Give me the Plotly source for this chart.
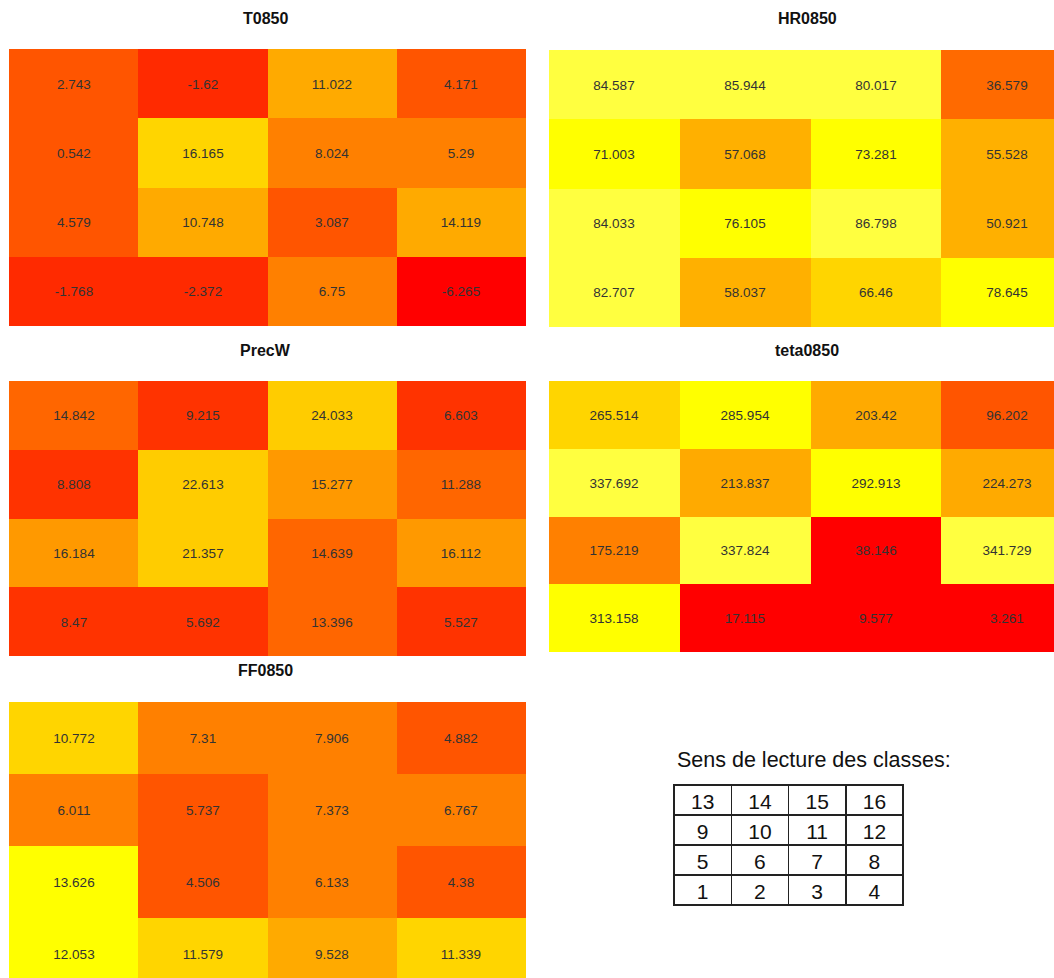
import plotly.graph_objects as go

# ---------------- data (values listed in class order 1..16; class 1 = bottom-left) ----------------
T0850 = [-1.768, -2.372, 6.75, -6.265,
         4.579, 10.748, 3.087, 14.119,
         0.542, 16.165, 8.024, 5.29,
         2.743, -1.62, 11.022, 4.171]
HR0850 = [82.707, 58.037, 66.46, 78.645,
          84.033, 76.105, 86.798, 50.921,
          71.003, 57.068, 73.281, 55.528,
          84.587, 85.944, 80.017, 36.579]
PrecW = [8.47, 5.692, 13.396, 5.527,
         16.184, 21.357, 14.639, 16.112,
         8.808, 22.613, 15.277, 11.288,
         14.842, 9.215, 24.033, 6.603]
teta0850 = [313.158, 17.115, 9.577, 3.261,
            175.219, 337.824, 38.146, 341.729,
            337.692, 213.837, 292.913, 224.273,
            265.514, 285.954, 203.42, 96.202]
FF0850 = [12.053, 11.579, 9.528, 11.339,
          13.626, 4.506, 6.133, 4.38,
          6.011, 5.737, 7.373, 6.767,
          10.772, 7.31, 7.906, 4.882]

titles = ["T0850", "HR0850", "PrecW", "teta0850", "FF0850"]
classes = list(range(1, 17))
legend_title = "Sens de lecture des classes:"

# class breaks (scale definitions) and heat colours per panel
breaks = {
    "T0850": [-10, -5, 0, 5, 10, 15, 20],
    "HR0850": [30, 40, 50, 60, 70, 80, 90],
    "PrecW": [5, 10, 15, 20, 25],
    "teta0850": [0, 50, 150, 200, 250, 280, 325, 350],
    "FF0850": [4, 6, 8, 10, 12, 14],
}
palettes = {
    "T0850": ["#FF0000", "#FF2A00", "#FF5500", "#FF8000", "#FFAA00", "#FFD500"],
    "HR0850": ["#FF6A00", "#FF8D00", "#FFB000", "#FFD500", "#FFFF00", "#FFFF40"],
    "PrecW": ["#FF3300", "#FF6600", "#FF9900", "#FFCC00"],
    "teta0850": ["#FF0000", "#FF5500", "#FF8000", "#FFAA00", "#FFD500", "#FFFF00", "#FFFF40"],
    "FF0850": ["#FF5500", "#FF8000", "#FFAA00", "#FFD500", "#FFFF00"],
}

series = {"T0850": T0850, "HR0850": HR0850, "PrecW": PrecW,
          "teta0850": teta0850, "FF0850": FF0850}

W, H = 1054, 978

# panel boxes in pixels: x0, x1, y0(top), y1(bottom), xrange, yrange
panels = {
    "T0850":    dict(px=(9, 526),   py=(49, 326),  xr=[-0.5, 3.5],  yr=[-0.5, 3.5]),
    "HR0850":   dict(px=(549, 1054), py=(50, 327), xr=[-0.5, 3.36], yr=[-0.5, 3.5]),
    "PrecW":    dict(px=(9, 526),   py=(381, 656), xr=[-0.5, 3.5],  yr=[-0.5, 3.5]),
    "teta0850": dict(px=(549, 1054), py=(381, 652), xr=[-0.5, 3.36], yr=[-0.5, 3.5]),
    "FF0850":   dict(px=(9, 526),   py=(702, 978), xr=[-0.5, 3.5],  yr=[-0.33, 3.5]),
}
title_pos = {"T0850": (265, 18), "HR0850": (807, 18), "PrecW": (265, 350),
             "teta0850": (807, 350), "FF0850": (265, 670)}


def stepped(br, cols):
    lo, hi = br[0], br[-1]
    cs = []
    for i, c in enumerate(cols):
        a = (br[i] - lo) / (hi - lo)
        b = (br[i + 1] - lo) / (hi - lo)
        cs.append([a, c])
        cs.append([b, c])
    return cs


def to_grid(vals):
    return [vals[r * 4:(r + 1) * 4] for r in range(4)]


fig = go.Figure()
layout = {}
annotations = []
for k, name in enumerate(titles):
    idx = "" if k == 0 else str(k + 1)
    vals = series[name]
    z = to_grid(vals)
    txt = to_grid([str(v) for v in vals])
    fig.add_trace(go.Heatmap(
        z=z, x=[0, 1, 2, 3], y=[0, 1, 2, 3], text=txt,
        texttemplate="%{text}",
        textfont=dict(size=13.5, color="#333333", family="Arial, Liberation Sans, sans-serif"),
        colorscale=stepped(breaks[name], palettes[name]),
        zmin=breaks[name][0], zmax=breaks[name][-1],
        showscale=False, hoverinfo="skip",
        xaxis="x" + idx, yaxis="y" + idx,
    ))
    p = panels[name]
    layout["xaxis" + idx] = dict(domain=[p["px"][0] / W, p["px"][1] / W], range=p["xr"],
                                 visible=False, fixedrange=True, anchor="y" + idx)
    layout["yaxis" + idx] = dict(domain=[1 - p["py"][1] / H, 1 - p["py"][0] / H], range=p["yr"],
                                 visible=False, fixedrange=True, anchor="x" + idx)
    tx, ty = title_pos[name]
    annotations.append(dict(text="<b>" + name + "</b>", x=tx / W, y=1 - ty / H,
                            xref="paper", yref="paper", showarrow=False,
                            xanchor="center", yanchor="middle",
                            font=dict(size=16, color="#111111",
                                      family="Arial, Liberation Sans, sans-serif")))

annotations.append(dict(text=legend_title, x=675 / W, y=1 - 760 / H, xref="paper", yref="paper",
                        showarrow=False, xanchor="left", yanchor="middle",
                        font=dict(size=21.5, color="#111111", family="Arial, Liberation Sans, sans-serif")))

# reading-order table: top row 13..16 down to 1..4
rows = [classes[r * 4:(r + 1) * 4] for r in range(3, -1, -1)]
cols_vals = [[str(rows[r][c]) for r in range(1, 4)] for c in range(4)]
fig.add_trace(go.Table(
    domain=dict(x=[674 / W, 904 / W], y=[1 - 908 / H, 1 - 785 / H]),
    columnwidth=[1, 1, 1, 1],
    header=dict(values=[str(v) for v in rows[0]], height=30, align="center",
                fill_color="white", line=dict(color="#222222", width=1.5),
                font=dict(size=21, color="#111111", family="Arial, Liberation Sans, sans-serif")),
    cells=dict(values=cols_vals, height=30, align="center",
               fill_color="white", line=dict(color="#222222", width=1.5),
               font=dict(size=21, color="#111111", family="Arial, Liberation Sans, sans-serif")),
))

fig.update_layout(width=W, height=H, margin=dict(l=0, r=0, t=0, b=0),
                  paper_bgcolor="white", plot_bgcolor="white",
                  annotations=annotations, showlegend=False, **layout)

fig.write_html("out.html", config={"displayModeBar": False},
               post_script="document.body.style.margin='0';document.body.style.overflow='hidden';")
